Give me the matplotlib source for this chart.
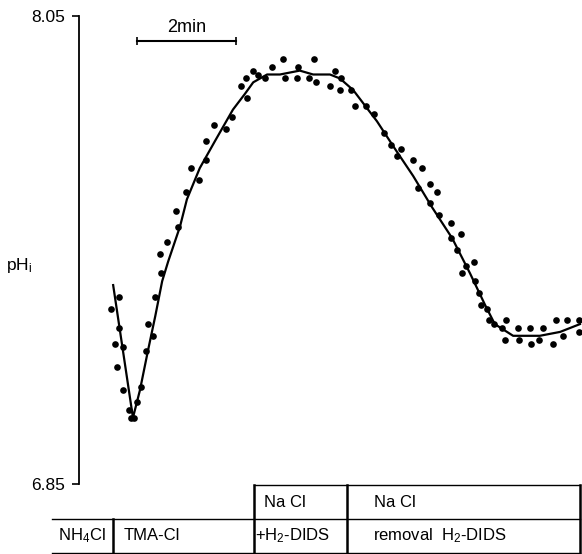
import numpy as np
import matplotlib.pyplot as plt
from matplotlib.transforms import blended_transform_factory

plt.rcParams['font.family'] = ['Liberation Sans', 'DejaVu Sans']
plt.rcParams['mathtext.fontset'] = 'custom'
plt.rcParams['mathtext.rm'] = 'Liberation Sans'
plt.rcParams['mathtext.it'] = 'Liberation Sans:italic'

# measured pHi (dots): time in min, pH
t_dots = [0.65, 0.81, 0.81, 0.73, 0.89, 0.77, 0.89, 1.01, 1.05, 1.11,
          1.17, 1.25, 1.35, 1.39, 1.49, 1.54, 1.66, 1.64, 1.78, 1.96,
          2.00, 2.16, 2.26, 2.42, 2.57, 2.57, 2.73, 2.97, 3.09, 3.27,
          3.39, 3.37, 3.52, 3.62, 3.76, 3.90, 4.12, 4.16, 4.42, 4.40,
          4.65, 4.75, 4.79, 5.07, 5.17, 5.27, 5.29, 5.49, 5.58, 5.80,
          5.96, 6.16, 6.30, 6.51, 6.42, 6.75, 6.93, 6.85, 7.09, 7.23,
          7.09, 7.27, 7.52, 7.72, 7.52, 7.64, 7.82, 7.98, 7.74, 8.00,
          8.08, 8.12, 8.24, 8.28, 8.38, 8.63, 8.55, 8.61, 8.87, 8.89,
          9.11, 9.13, 9.29, 9.37, 9.58, 9.64, 9.78, 9.86, 10.10, 10.10]
ph_dots = [7.30, 7.33, 7.25, 7.21, 7.20, 7.15, 7.09, 7.04, 7.02, 7.02,
           7.06, 7.10, 7.19, 7.26, 7.23, 7.33, 7.39, 7.44, 7.47, 7.55,
           7.51, 7.60, 7.66, 7.63, 7.68, 7.73, 7.77, 7.76, 7.79, 7.87,
           7.84, 7.89, 7.91, 7.90, 7.89, 7.92, 7.94, 7.89, 7.92, 7.89,
           7.89, 7.94, 7.88, 7.87, 7.91, 7.86, 7.89, 7.86, 7.82, 7.82,
           7.80, 7.75, 7.72, 7.71, 7.69, 7.68, 7.66, 7.61, 7.62, 7.60,
           7.57, 7.54, 7.52, 7.49, 7.48, 7.45, 7.41, 7.42, 7.39, 7.37,
           7.34, 7.31, 7.30, 7.27, 7.26, 7.27, 7.25, 7.22, 7.25, 7.22,
           7.25, 7.21, 7.22, 7.25, 7.21, 7.27, 7.23, 7.27, 7.27, 7.24]

# fitted curve
t_fit = [0.69, 0.89, 1.09, 1.23, 1.39, 1.54, 1.68, 1.80, 2.04, 2.18,
         2.44, 2.75, 3.11, 3.35, 3.52, 3.80, 4.06, 4.46, 4.73, 5.07,
         5.27, 5.54, 5.78, 6.02, 6.38, 6.75, 7.13, 7.54, 7.90, 8.20,
         8.40, 8.77, 9.31, 9.72, 10.12]
ph_fit = [7.36, 7.19, 7.02, 7.09, 7.19, 7.28, 7.37, 7.42, 7.51, 7.58,
          7.66, 7.73, 7.81, 7.85, 7.88, 7.90, 7.90, 7.91, 7.90, 7.90,
          7.89, 7.86, 7.82, 7.78, 7.71, 7.64, 7.56, 7.48, 7.39, 7.31,
          7.26, 7.23, 7.23, 7.24, 7.26]

# solution bar below the trace (boundaries in min)
bounds = [-0.55, 0.69, 3.54, 5.41, 10.12]

fig = plt.figure(figsize=(5.82, 5.54), dpi=100)
ax = fig.add_axes([79 / 582, 1 - 484 / 554, 503 / 582, 468 / 554])
ax.set_xlim(0, 503 / 49.5)
ax.set_ylim(6.85, 8.05)

ax.plot(t_fit, ph_fit, color='black', lw=1.6, clip_on=False,
        solid_joinstyle='round')
ax.plot(t_dots, ph_dots, 'o', color='black', ms=4.8, mew=0, clip_on=False)

for s in ['top', 'right', 'bottom']:
    ax.spines[s].set_visible(False)
ax.spines['left'].set_linewidth(1.3)
ax.set_xticks([])
ax.set_yticks([6.85, 8.05])
ax.set_yticklabels(['6.85', '8.05'])
ax.tick_params(axis='y', length=5, width=1.2, pad=5, labelsize=12.5)

fig.text(6 / 582, 1 - 266 / 554, 'pH$_\\mathregular{i}$', fontsize=12.5,
         ha='left', va='center')

# 2 min scale bar
ax.plot([1.17, 3.17], [7.986, 7.986], color='black', lw=1.5,
        marker='|', ms=6, mew=1.2)
ax.text(2.17, 8.0, '2min', ha='center', va='bottom', fontsize=13)

# solution table
tr = blended_transform_factory(ax.transData, ax.transAxes)
y_top, y_mid, y_bot = -0.002, -0.0748, -0.1474
hl = dict(color='black', lw=1.0, transform=tr, clip_on=False)
vl = dict(color='black', lw=1.8, transform=tr, clip_on=False)
ax.plot([bounds[2], bounds[4]], [y_top, y_top], **hl)
ax.plot([bounds[0], bounds[4]], [y_mid, y_mid], **hl)
ax.plot([bounds[0], bounds[4]], [y_bot, y_bot], **hl)
ax.plot([bounds[1], bounds[1]], [y_mid, y_bot], **vl)
for b in bounds[2:]:
    ax.plot([b, b], [y_top, y_bot], **vl)

fs = 12
ax.text(0.06, -0.111, 'NH$_\\mathregular{4}$Cl', transform=tr, ha='center',
        va='center', fontsize=fs)
ax.text(0.91, -0.111, 'TMA-Cl', transform=tr, ha='left', va='center', fontsize=fs)
ax.text(3.74, -0.0385, 'Na Cl', transform=tr, ha='left', va='center', fontsize=fs)
ax.text(3.56, -0.111, '+H$_\\mathregular{2}$-DIDS', transform=tr, ha='left',
        va='center', fontsize=fs)
ax.text(5.96, -0.0385, 'Na Cl', transform=tr, ha='left', va='center', fontsize=fs)
ax.text(5.94, -0.111, 'removal  H$_\\mathregular{2}$-DIDS', transform=tr,
        ha='left', va='center', fontsize=fs)

fig.savefig('out.png', dpi=100)
